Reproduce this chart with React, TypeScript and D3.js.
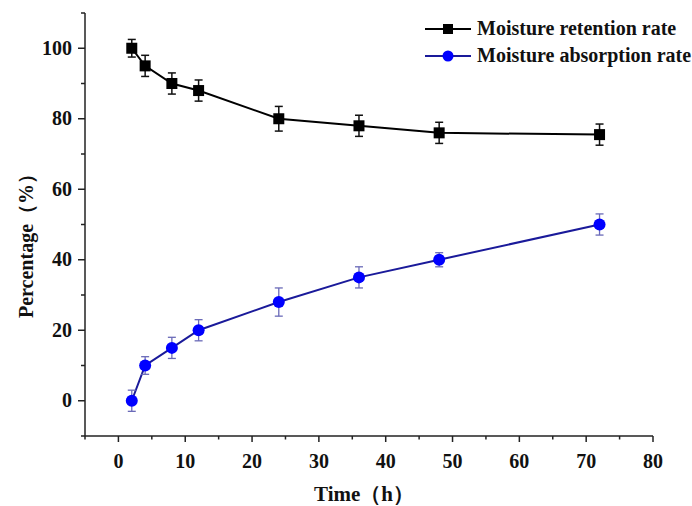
import React from "react";
import * as d3 from "d3";

const times = [2, 4, 8, 12, 24, 36, 48, 72];
const retention = [100, 95, 90, 88, 80, 78, 76, 75.5];
const retentionErr = [2.5, 3, 3, 3, 3.5, 3, 3, 3];
const absorption = [0, 10, 15, 20, 28, 35, 40, 50];
const absorptionErr = [3, 2.5, 3, 3, 4, 3, 2, 3];
const xTicks = [0, 10, 20, 30, 40, 50, 60, 70, 80];
const yTicks = [0, 20, 40, 60, 80, 100];
const seriesNames = ["Moisture retention rate", "Moisture absorption rate"];

const W = 692, H = 506;
const left = 85, right = 653, top = 13, bottom = 436;
const font = "'Liberation Serif', 'Times New Roman', serif";

export default function App() {
  const x = d3.scaleLinear().domain([-5, 80]).range([left, right]);
  const y = d3.scaleLinear().domain([-10, 110]).range([bottom, top]);
  const line = d3.line<[number, number]>().x(d => x(d[0])).y(d => y(d[1]));
  const retPts = times.map((t, i) => [t, retention[i]] as [number, number]);
  const absPts = times.map((t, i) => [t, absorption[i]] as [number, number]);
  const xMinor = d3.range(-5, 81, 5).filter(v => v % 10 !== 0);
  const yMinor = d3.range(-10, 111, 10).filter(v => v % 20 !== 0);
  const cap = 4;
  return (
    <svg width={W} height={H} style={{ position: "absolute", left: 0, top: 0, background: "#fff" }} fontFamily={font}>
      <rect width={W} height={H} fill="#fff" />
      {/* axes */}
      <line x1={left} x2={left} y1={top} y2={bottom} stroke="#222" strokeWidth={1.5} />
      <line x1={left} x2={right} y1={bottom} y2={bottom} stroke="#222" strokeWidth={1.5} />
      {xTicks.map(v => (
        <g key={"xt" + v}>
          <line x1={x(v)} x2={x(v)} y1={bottom} y2={bottom + 6} stroke="#222" strokeWidth={1.5} />
          <text x={x(v)} y={468} textAnchor="middle" fontSize={20} fontWeight="bold" fill="#111">{v}</text>
        </g>
      ))}
      {xMinor.map(v => (
        <line key={"xm" + v} x1={x(v)} x2={x(v)} y1={bottom} y2={bottom + 3.5} stroke="#222" strokeWidth={1.5} />
      ))}
      {yTicks.map(v => (
        <g key={"yt" + v}>
          <line x1={left - 7} x2={left} y1={y(v)} y2={y(v)} stroke="#222" strokeWidth={1.5} />
          <text x={72} y={y(v) + 6.5} textAnchor="end" fontSize={20} fontWeight="bold" fill="#111">{v}</text>
        </g>
      ))}
      {yMinor.map(v => (
        <line key={"ym" + v} x1={left - 4} x2={left} y1={y(v)} y2={y(v)} stroke="#222" strokeWidth={1.5} />
      ))}
      {/* axis titles */}
      <text x={364} y={501} textAnchor="middle" fontSize={21} fontWeight="bold" fill="#111">Time（h）</text>
      <text transform={`translate(33,241) rotate(-90)`} textAnchor="middle" fontSize={20} fontWeight="bold" fill="#111">Percentage（%）</text>
      {/* retention series */}
      <path d={line(retPts) || ""} fill="none" stroke="#000" strokeWidth={2} />
      {times.map((t, i) => (
        <g key={"re" + i} stroke="#111" strokeWidth={1.5}>
          <line x1={x(t)} x2={x(t)} y1={y(retention[i] - retentionErr[i])} y2={y(retention[i] + retentionErr[i])} />
          <line x1={x(t) - cap} x2={x(t) + cap} y1={y(retention[i] + retentionErr[i])} y2={y(retention[i] + retentionErr[i])} />
          <line x1={x(t) - cap} x2={x(t) + cap} y1={y(retention[i] - retentionErr[i])} y2={y(retention[i] - retentionErr[i])} />
        </g>
      ))}
      {times.map((t, i) => (
        <rect key={"rm" + i} x={x(t) - 5.5} y={y(retention[i]) - 5.5} width={11} height={11} fill="#000" />
      ))}
      {/* absorption series */}
      <path d={line(absPts) || ""} fill="none" stroke="#1a1a9a" strokeWidth={2} />
      {times.map((t, i) => (
        <g key={"ae" + i} stroke="#6a6ab8" strokeWidth={1.3}>
          <line x1={x(t)} x2={x(t)} y1={y(absorption[i] - absorptionErr[i])} y2={y(absorption[i] + absorptionErr[i])} />
          <line x1={x(t) - cap} x2={x(t) + cap} y1={y(absorption[i] + absorptionErr[i])} y2={y(absorption[i] + absorptionErr[i])} />
          <line x1={x(t) - cap} x2={x(t) + cap} y1={y(absorption[i] - absorptionErr[i])} y2={y(absorption[i] - absorptionErr[i])} />
        </g>
      ))}
      {times.map((t, i) => (
        <circle key={"am" + i} cx={x(t)} cy={y(absorption[i])} r={6} fill="#0000ff" />
      ))}
      {/* legend */}
      <line x1={425} x2={471} y1={29} y2={29} stroke="#000" strokeWidth={2} />
      <rect x={443} y={24} width={10} height={10} fill="#000" />
      <text x={477} y={35} fontSize={20} fontWeight="bold" fill="#111">{seriesNames[0]}</text>
      <line x1={425} x2={471} y1={56} y2={56} stroke="#1a1a9a" strokeWidth={2} />
      <circle cx={448} cy={56} r={5.5} fill="#0000ff" />
      <text x={477} y={62} fontSize={20} fontWeight="bold" fill="#111">{seriesNames[1]}</text>
    </svg>
  );
}
